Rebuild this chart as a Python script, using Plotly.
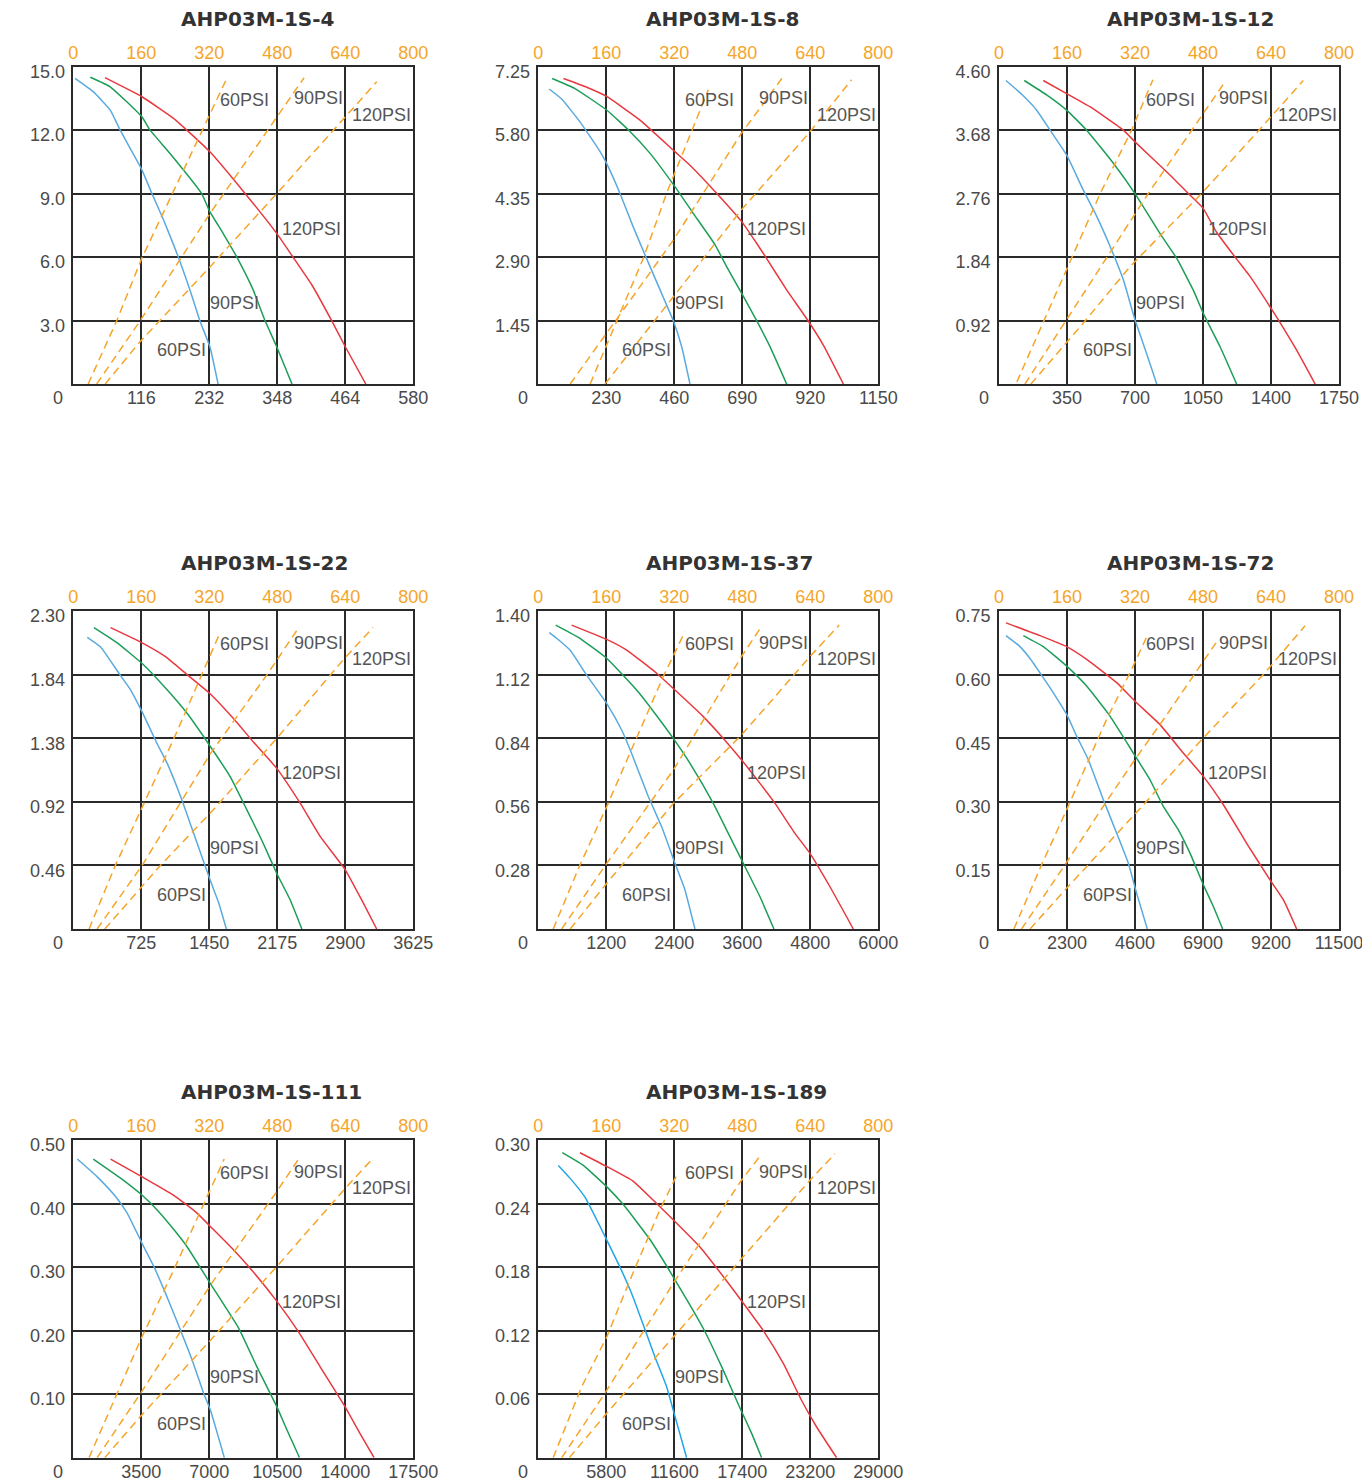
import plotly.graph_objects as go

# ---------------- data ----------------
MODELS = ["AHP03M-1S-4", "AHP03M-1S-8", "AHP03M-1S-12", "AHP03M-1S-22",
          "AHP03M-1S-37", "AHP03M-1S-72", "AHP03M-1S-111", "AHP03M-1S-189"]

AIR_TICKS = [0, 160, 320, 480, 640, 800]

X_TICKS_4 = [116, 232, 348, 464, 580]
X_TICKS_8 = [230, 460, 690, 920, 1150]
X_TICKS_12 = [350, 700, 1050, 1400, 1750]
X_TICKS_22 = [725, 1450, 2175, 2900, 3625]
X_TICKS_37 = [1200, 2400, 3600, 4800, 6000]
X_TICKS_72 = [2300, 4600, 6900, 9200, 11500]
X_TICKS_111 = [3500, 7000, 10500, 14000, 17500]
X_TICKS_189 = [5800, 11600, 17400, 23200, 29000]

Y_TICKS_4 = ["3.0", "6.0", "9.0", "12.0", "15.0"]
Y_TICKS_8 = ["1.45", "2.90", "4.35", "5.80", "7.25"]
Y_TICKS_12 = ["0.92", "1.84", "2.76", "3.68", "4.60"]
Y_TICKS_22 = ["0.46", "0.92", "1.38", "1.84", "2.30"]
Y_TICKS_37 = ["0.28", "0.56", "0.84", "1.12", "1.40"]
Y_TICKS_72 = ["0.15", "0.30", "0.45", "0.60", "0.75"]
Y_TICKS_111 = ["0.10", "0.20", "0.30", "0.40", "0.50"]
Y_TICKS_189 = ["0.06", "0.12", "0.18", "0.24", "0.30"]

# performance curves (bottom axis flow, left axis value)
x4_60 = [3, 34, 63, 80, 97, 117, 134, 154, 179, 199, 216, 233, 247]
y4_60 = [14.45, 13.82, 12.95, 12.0, 11.14, 10.12, 9.01, 7.75, 6.02, 4.44, 2.98, 1.76, 0]
x4_90 = [29, 63, 117, 131, 165, 219, 232, 256, 279, 307, 327, 347, 373]
y4_90 = [14.5, 14.05, 12.63, 12.0, 10.9, 9.0, 8.2, 7.1, 6.0, 4.44, 3.0, 1.76, 0]
x4_120 = [54, 117, 171, 233, 293, 347, 375, 407, 441, 464, 499]
y4_120 = [14.48, 13.58, 12.56, 10.98, 9.01, 7.12, 5.99, 4.68, 2.98, 1.76, 0]

x8_60 = [37, 79, 141, 209, 231, 276, 321, 366, 417, 457, 485, 513]
y8_60 = [6.74, 6.51, 5.99, 5.31, 5.04, 4.36, 3.59, 2.87, 2.07, 1.44, 0.85, 0]
x8_90 = [47, 124, 231, 310, 378, 462, 524, 598, 637, 688, 739, 784, 840]
y8_90 = [6.98, 6.75, 6.26, 5.77, 5.27, 4.51, 3.90, 3.18, 2.68, 2.07, 1.44, 0.85, 0]
x8_120 = [85, 164, 231, 344, 462, 513, 603, 688, 739, 772, 840, 913, 964, 1032]
y8_120 = [6.98, 6.78, 6.57, 6.03, 5.31, 5.0, 4.36, 3.71, 3.21, 2.87, 2.15, 1.44, 0.89, 0]

x12_60 = [36, 117, 194, 263, 348, 434, 503, 580, 640, 700, 760, 812]
y12_60 = [4.40, 4.20, 3.97, 3.68, 3.32, 2.81, 2.43, 1.94, 1.51, 0.93, 0.44, 0]
x12_90 = [130, 245, 348, 451, 589, 700, 829, 915, 1000, 1052, 1138, 1223]
y12_90 = [4.40, 4.19, 3.97, 3.68, 3.20, 2.76, 2.18, 1.82, 1.36, 1.02, 0.54, 0]
x12_120 = [228, 348, 468, 640, 700, 880, 975, 1050, 1120, 1215, 1292, 1395, 1438, 1532, 1627]
y12_120 = [4.40, 4.21, 4.02, 3.68, 3.51, 3.03, 2.76, 2.55, 2.20, 1.84, 1.56, 1.12, 0.93, 0.49, 0]

x22_60 = [149, 291, 486, 610, 734, 894, 1000, 1160, 1284, 1461, 1550, 1632]
y22_60 = [2.11, 2.04, 1.85, 1.73, 1.57, 1.34, 1.20, 0.93, 0.69, 0.35, 0.19, 0]
x22_90 = [220, 468, 734, 1000, 1213, 1461, 1674, 1852, 2011, 2171, 2313, 2437]
y22_90 = [2.18, 2.07, 1.92, 1.73, 1.56, 1.32, 1.10, 0.86, 0.64, 0.40, 0.21, 0]
x22_120 = [397, 734, 983, 1213, 1461, 1710, 1923, 2171, 2419, 2632, 2898, 3075, 3235]
y22_120 = [2.18, 2.07, 1.97, 1.84, 1.70, 1.52, 1.35, 1.16, 0.91, 0.67, 0.43, 0.21, 0]

x37_60 = [194, 324, 559, 853, 1206, 1471, 1647, 1941, 2177, 2412, 2588, 2765]
y37_60 = [1.305, 1.28, 1.228, 1.118, 0.993, 0.876, 0.773, 0.583, 0.45, 0.289, 0.172, 0]
x37_90 = [306, 706, 1206, 1735, 2059, 2382, 2677, 3088, 3353, 3618, 3912, 4159]
y37_90 = [1.338, 1.284, 1.192, 1.052, 0.949, 0.839, 0.729, 0.553, 0.421, 0.289, 0.142, 0]
x37_120 = [588, 1206, 1559, 2088, 2412, 2912, 3265, 3588, 3912, 4177, 4529, 4794, 5147, 5559]
y37_120 = [1.338, 1.275, 1.228, 1.126, 1.052, 0.935, 0.839, 0.744, 0.641, 0.553, 0.421, 0.333, 0.186, 0]

x72_60 = [237, 710, 1049, 1387, 1838, 2289, 2627, 3022, 3529, 3980, 4375, 4656, 5017]
y72_60 = [0.692, 0.666, 0.638, 0.604, 0.557, 0.506, 0.455, 0.399, 0.305, 0.226, 0.155, 0.084, 0]
x72_90 = [823, 1500, 2289, 2965, 3754, 4544, 5107, 5558, 6066, 6460, 6889, 7250, 7565]
y72_90 = [0.692, 0.666, 0.62, 0.573, 0.502, 0.415, 0.352, 0.289, 0.234, 0.179, 0.108, 0.053, 0]
x72_120 = [237, 1387, 2289, 2965, 3980, 4600, 5446, 6235, 6911, 7588, 8377, 9166, 9617, 10068]
y72_120 = [0.722, 0.692, 0.666, 0.636, 0.581, 0.537, 0.482, 0.415, 0.36, 0.293, 0.202, 0.116, 0.069, 0]

x111_60 = [206, 1233, 2175, 2774, 3545, 4144, 4743, 5514, 6113, 6712, 7055, 7774]
y111_60 = [0.47, 0.442, 0.411, 0.385, 0.337, 0.301, 0.259, 0.201, 0.154, 0.101, 0.075, 0]
x111_90 = [1027, 2432, 3545, 4315, 5257, 5856, 7055, 8510, 9452, 10480, 10993, 11644]
y111_90 = [0.47, 0.44, 0.413, 0.39, 0.356, 0.332, 0.274, 0.204, 0.143, 0.08, 0.044, 0]
x111_120 = [1918, 3545, 5171, 6370, 7055, 8253, 9024, 10480, 11593, 12706, 13990, 14760, 15480]
y111_120 = [0.47, 0.442, 0.413, 0.385, 0.364, 0.327, 0.301, 0.246, 0.198, 0.143, 0.08, 0.038, 0]

x189_60 = [1706, 2701, 3980, 5686, 6966, 7961, 9098, 9951, 10946, 11657, 12652]
y189_60 = [0.276, 0.264, 0.246, 0.209, 0.18, 0.155, 0.121, 0.095, 0.067, 0.039, 0]
x189_90 = [2047, 3838, 5828, 7250, 9525, 11657, 14074, 15637, 17201, 18196, 19049]
y189_90 = [0.288, 0.276, 0.256, 0.239, 0.206, 0.168, 0.122, 0.086, 0.047, 0.023, 0]
x189_120 = [3554, 5828, 8103, 10093, 11657, 13789, 15922, 17343, 19191, 20897, 22461, 23740, 25446]
y189_120 = [0.288, 0.275, 0.261, 0.24, 0.223, 0.199, 0.169, 0.148, 0.120, 0.089, 0.054, 0.029, 0]

# air consumption lines (top axis 0-800, left axis value)
a4_60 = [35, 102, 161, 267, 362]
h4_60 = [0, 2.98, 5.94, 10.43, 14.48]
a4_90 = [55, 157, 322, 479, 543]
h4_90 = [0, 2.98, 8.07, 12.63, 14.48]
a4_120 = [75, 157, 322, 479, 714]
h4_120 = [0, 2.0, 5.54, 9.01, 14.29]

a8_60 = [122, 247, 302, 400]
h8_60 = [0, 2.87, 4.36, 6.72]
a8_90 = [75, 318, 478, 573]
h8_90 = [0, 3.29, 5.73, 6.98]
a8_120 = [157, 318, 478, 639, 737]
h8_120 = [0, 2.0, 3.98, 5.76, 6.95]

a12_60 = [42, 171, 238, 312, 362]
h12_60 = [0.03, 1.82, 2.76, 3.68, 4.41]
a12_90 = [61, 351, 534]
h12_90 = [0, 2.76, 4.40]
a12_120 = [75, 202, 308, 481, 622, 716]
h12_120 = [0, 0.91, 1.70, 2.79, 3.75, 4.40]

a22_60 = [37, 99, 162, 240, 342]
h22_60 = [0, 0.46, 0.88, 1.40, 2.12]
a22_90 = [56, 162, 323, 456, 526]
h22_90 = [0, 0.46, 1.27, 1.84, 2.16]
a22_120 = [74, 205, 323, 479, 636, 705]
h22_120 = [0, 0.46, 0.84, 1.38, 1.95, 2.18]

a37_60 = [35, 98, 161, 216, 294, 345]
h37_60 = [0, 0.282, 0.539, 0.773, 1.111, 1.309]
a37_90 = [55, 161, 318, 478, 522]
h37_90 = [0, 0.289, 0.70, 1.199, 1.323]
a37_120 = [75, 161, 318, 478, 639, 708]
h37_120 = [0, 0.201, 0.553, 0.854, 1.199, 1.338]

a72_60 = [35, 100, 159, 253, 308, 349]
h72_60 = [0, 0.151, 0.281, 0.494, 0.604, 0.692]
a72_90 = [53, 155, 253, 320, 387, 477, 516]
h72_90 = [0, 0.151, 0.301, 0.40, 0.494, 0.628, 0.683]
a72_120 = [73, 159, 340, 481, 622, 720]
h72_120 = [0, 0.096, 0.293, 0.451, 0.60, 0.715]

a111_60 = [37, 96, 158, 236, 323, 355]
h111_60 = [0, 0.091, 0.185, 0.295, 0.421, 0.47]
a111_90 = [56, 158, 323, 479, 530]
h111_90 = [0, 0.101, 0.272, 0.419, 0.47]
a111_120 = [74, 158, 323, 479, 636, 702]
h111_120 = [0, 0.065, 0.185, 0.301, 0.421, 0.469]

a189_60 = [35, 102, 161, 216, 286, 326]
h189_60 = [0, 0.067, 0.114, 0.168, 0.234, 0.267]
a189_90 = [55, 157, 318, 478, 526]
h189_90 = [0, 0.061, 0.165, 0.262, 0.287]
a189_120 = [73, 157, 318, 478, 639, 698]
h189_120 = [0, 0.040, 0.114, 0.188, 0.262, 0.287]

PSI = ["60PSI", "90PSI", "120PSI"]

SUBPLOTS = [
    (X_TICKS_4, Y_TICKS_4, [(x4_60, y4_60), (x4_90, y4_90), (x4_120, y4_120)],
     [(a4_60, h4_60), (a4_90, h4_90), (a4_120, h4_120)]),
    (X_TICKS_8, Y_TICKS_8, [(x8_60, y8_60), (x8_90, y8_90), (x8_120, y8_120)],
     [(a8_60, h8_60), (a8_90, h8_90), (a8_120, h8_120)]),
    (X_TICKS_12, Y_TICKS_12, [(x12_60, y12_60), (x12_90, y12_90), (x12_120, y12_120)],
     [(a12_60, h12_60), (a12_90, h12_90), (a12_120, h12_120)]),
    (X_TICKS_22, Y_TICKS_22, [(x22_60, y22_60), (x22_90, y22_90), (x22_120, y22_120)],
     [(a22_60, h22_60), (a22_90, h22_90), (a22_120, h22_120)]),
    (X_TICKS_37, Y_TICKS_37, [(x37_60, y37_60), (x37_90, y37_90), (x37_120, y37_120)],
     [(a37_60, h37_60), (a37_90, h37_90), (a37_120, h37_120)]),
    (X_TICKS_72, Y_TICKS_72, [(x72_60, y72_60), (x72_90, y72_90), (x72_120, y72_120)],
     [(a72_60, h72_60), (a72_90, h72_90), (a72_120, h72_120)]),
    (X_TICKS_111, Y_TICKS_111, [(x111_60, y111_60), (x111_90, y111_90), (x111_120, y111_120)],
     [(a111_60, h111_60), (a111_90, h111_90), (a111_120, h111_120)]),
    (X_TICKS_189, Y_TICKS_189, [(x189_60, y189_60), (x189_90, y189_90), (x189_120, y189_120)],
     [(a189_60, h189_60), (a189_90, h189_90), (a189_120, h189_120)]),
]

# ---------------- styling / layout ----------------
# the page body has an 8px margin, so the figure is made 8px smaller on the
# right/bottom and all pixel positions are measured from the figure corner
W, H = 1362, 1473
COL_PX = [(65.3, 405.3), (530.3, 870.3), (991.0, 1331.0)]
ROW_PX = [(58.7, 376.0), (603.0, 921.0), (1132.0, 1449.7)]
CURVE_COLORS = ["#5AAADF", "#1C9E58", "#E8393F"]
CURVE_COLORS_189 = ["#22A5E8", "#1C9E58", "#E8393F"]
ORANGE = "#F5A52A"
GRID = "#2a2a2a"
TXT = "#4a4a4a"
FONT = "Liberation Sans, Arial, sans-serif"

# label positions inside each panel (fractions of panel)
LABEL_POS = [("60PSI", 0.503, 0.895), ("90PSI", 0.72, 0.90), ("120PSI", 0.907, 0.848),
             ("120PSI", 0.701, 0.49), ("90PSI", 0.475, 0.254), ("60PSI", 0.319, 0.107)]


def sfx(n):
    return "" if n == 1 else str(n)


fig = go.Figure()
layout = dict(
    width=W, height=H, margin=dict(l=0, r=0, t=0, b=0, autoexpand=False),
    paper_bgcolor="white", plot_bgcolor="white", showlegend=False,
    font=dict(family=FONT, size=18, color=TXT),
)
annotations = []

for k, (xt, yt, curves, airs) in enumerate(SUBPLOTS):
    i = sfx(k + 1)
    j = sfx(k + 9)
    r, c = divmod(k, 3)
    x0, x1 = COL_PX[c]
    y0, y1 = ROW_PX[r]
    xd = [x0 / W, x1 / W]
    yd = [1 - y1 / H, 1 - y0 / H]
    yvals = [float(s) for s in yt]
    xmax = xt[-1]
    ymax = yvals[-1]

    layout[f"xaxis{i}"] = dict(
        domain=xd, anchor=f"y{i}", range=[0, xmax], tickmode="array",
        tickvals=xt, ticktext=[str(v) for v in xt], showgrid=True,
        gridcolor=GRID, gridwidth=1.5, showline=True, mirror=True,
        linecolor=GRID, linewidth=1.5, zeroline=False, ticks="",
        ticklabelstandoff=-3, tickfont=dict(size=18, color=TXT, family=FONT),
        fixedrange=True, automargin=False,
    )
    layout[f"yaxis{i}"] = dict(
        domain=yd, anchor=f"x{i}", range=[0, ymax], tickmode="array",
        tickvals=yvals, ticktext=yt, showgrid=True, gridcolor=GRID,
        gridwidth=1.5, showline=True, mirror=True, linecolor=GRID,
        linewidth=1.5, zeroline=False, ticks="", ticklabelstandoff=3,
        ticklabelshift=5,
        tickfont=dict(size=18, color=TXT, family=FONT), fixedrange=True,
        automargin=False,
    )
    layout[f"xaxis{j}"] = dict(
        overlaying=f"x{i}", anchor=f"y{i}", side="top", range=[0, 800],
        tickmode="array", tickvals=AIR_TICKS, ticktext=[str(v) for v in AIR_TICKS],
        showgrid=False, showline=False, zeroline=False, ticks="",
        ticklabelstandoff=3, tickfont=dict(size=18, color=ORANGE, family=FONT),
        fixedrange=True, automargin=False,
    )

    for (ax_, hy) in airs:
        fig.add_trace(go.Scatter(
            x=ax_, y=hy, mode="lines", xaxis=f"x{j}", yaxis=f"y{i}",
            line=dict(color=ORANGE, width=1.5, dash="8px,5px"),
            hoverinfo="skip",
        ))
    cols = CURVE_COLORS_189 if k == 7 else CURVE_COLORS
    for (cx, cy), col, name in zip(curves, cols, PSI):
        fig.add_trace(go.Scatter(
            x=cx, y=cy, mode="lines", xaxis=f"x{i}", yaxis=f"y{i}",
            line=dict(color=col, width=1.5, shape="spline", smoothing=0.4),
            name=name,
        ))

    annotations.append(dict(
        text=f"<b>{MODELS[k]}</b>", xref=f"x{i} domain", yref=f"y{i} domain",
        x=106 / 340, y=1 + 47.7 / (y1 - y0), xanchor="left", yanchor="middle",
        showarrow=False, font=dict(family="DejaVu Sans, sans-serif", size=20, color="#333333"),
    ))
    annotations.append(dict(
        text="0", xref=f"x{i} domain", yref=f"y{i} domain", x=0, y=0,
        xanchor="right", yanchor="middle", xshift=-8, yshift=-14,
        showarrow=False, font=dict(family=FONT, size=18, color=TXT),
    ))
    for (txt, fx, fy) in LABEL_POS:
        annotations.append(dict(
            text=txt, xref=f"x{i} domain", yref=f"y{i} domain", x=fx, y=fy,
            xanchor="center", yanchor="middle", showarrow=False,
            font=dict(family=FONT, size=18, color="#555555"),
        ))

layout["annotations"] = annotations
fig.update_layout(**layout)
fig.write_html("out.html")
